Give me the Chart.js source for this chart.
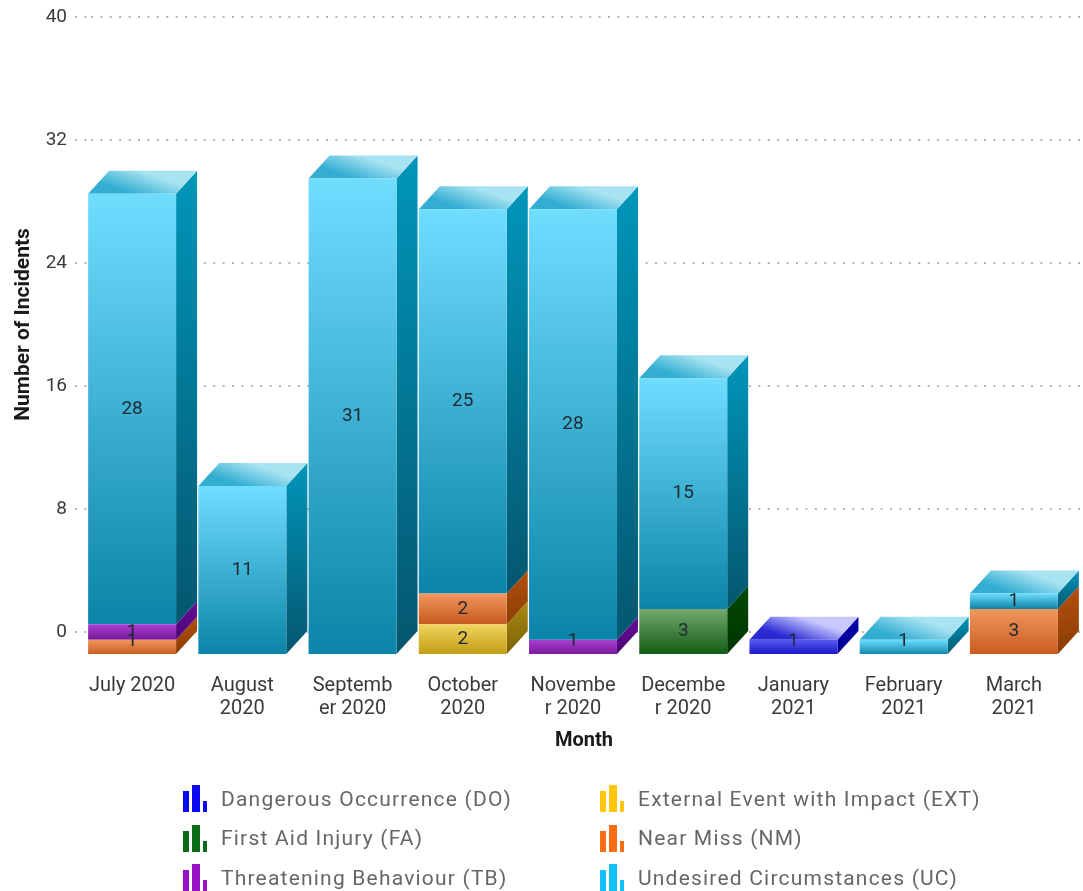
<!DOCTYPE html>
<html>
<head>
<meta charset="utf-8">
<script src="https://cdn.jsdelivr.net/npm/chart.js@4"></script>
<style>
  html, body { margin: 0; padding: 0; background: #fff; overflow: hidden; }
  #wrap { position: relative; width: 1083px; height: 891px; }
  #chart { position: absolute; left: 0; top: 0; }
  #legend { position: absolute; left: 183px; top: 779px; width: 860px; display: grid;
            grid-template-columns: 417px 417px; grid-auto-rows: 39.5px; }
  .item { display: flex; align-items: center; font: 21px Roboto, sans-serif; letter-spacing: 1.2px; color: #666; white-space: nowrap; }
  .icon { display: flex; align-items: flex-end; width: 27px; height: 27px; margin-right: 11px; }
  .icon i { display: block; margin-right: 3px; }
</style>
</head>
<body>
<div id="wrap">
  <canvas id="chart" width="1083" height="891"></canvas>
  <div id="legend"></div>
</div>
<script>
// ── Data ──
const categories = [
  ['July 2020'], ['August', '2020'], ['Septemb', 'er 2020'], ['October', '2020'], ['Novembe', 'r 2020'],
  ['Decembe', 'r 2020'], ['January', '2021'], ['February', '2021'], ['March', '2021']
];
const seriesNames = [
  'Dangerous Occurrence (DO)', 'External Event with Impact (EXT)', 'First Aid Injury (FA)',
  'Near Miss (NM)', 'Threatening Behaviour (TB)', 'Undesired Circumstances (UC)'
];
const doValues  = [0, 0, 0, 0, 0, 0, 1, 0, 0];
const extValues = [0, 0, 0, 2, 0, 0, 0, 0, 0];
const faValues  = [0, 0, 0, 0, 0, 3, 0, 0, 0];
const nmValues  = [1, 0, 0, 2, 0, 0, 0, 0, 3];
const tbValues  = [1, 0, 0, 0, 1, 0, 0, 0, 0];
const ucValues  = [28, 11, 31, 25, 28, 15, 0, 1, 1];
const allValues = [doValues, extValues, faValues, nmValues, tbValues, ucValues];
const yTicks    = [0, 8, 16, 24, 32, 40];

// ── Colours: legend, front face, side face, top face ──
const legendColors = ['#0a0af0', '#ffc60a', '#0b6a16', '#fb6c14', '#9a12c8', '#12c0fa'];
const faceColors = [
  { front: ['#5a5af2', '#1414c4'], side: ['#0000b0', '#000090'], cap: ['#2a2ad4', '#c8c8ff'] },
  { front: ['#efd660', '#c29a12'], side: ['#a88a10', '#7c6206'], cap: ['#d4b830', '#f4e8a8'] },
  { front: ['#74a870', '#0f5a12'], side: ['#024a02', '#003400'], cap: ['#3a8a3a', '#b8dcb8'] },
  { front: ['#f0975e', '#c95a1e'], side: ['#b4500e', '#8a3c04'], cap: ['#e08040', '#f8d0b0'] },
  { front: ['#aa40d2', '#78189a'], side: ['#66109a', '#4c0474'], cap: ['#9030b8', '#dcb0ec'] },
  { front: ['#70ddff', '#0a84a8'], side: ['#0096bb', '#05566f'], cap: ['#33aed2', '#a8e3f2'] }
];

// 3D depth of the boxes, in pixels
const DEPTH_X = 21;
const DEPTH_Y = 23;
// how far the front faces and x labels move left of their category centre
const SHIFT_X = 14;

// ── Value range of one stacked segment ──
function segment(dsIndex, i) {
  let base = 0;
  for (let k = 0; k < dsIndex; k++) base += allValues[k][i];
  return [base, base + allValues[dsIndex][i]];
}

function isTop(dsIndex, i) {
  for (let k = dsIndex + 1; k < allValues.length; k++) if (allValues[k][i] > 0) return false;
  return allValues[dsIndex][i] > 0;
}

function frontGradient(ctx) {
  const chart = ctx.chart;
  const colors = faceColors[ctx.datasetIndex].front;
  if (!chart.chartArea || !chart.scales.y) return colors[0];
  const [lo, hi] = segment(ctx.datasetIndex, ctx.dataIndex);
  const g = chart.ctx.createLinearGradient(0, chart.scales.y.getPixelForValue(hi), 0, chart.scales.y.getPixelForValue(lo));
  g.addColorStop(0, colors[0]);
  g.addColorStop(1, colors[1]);
  return g;
}

// ── Plugin: shift the bars off the axis and give them side + top faces ──
const boxes3d = {
  id: 'boxes3d',
  beforeDatasetsDraw(chart) {
    const ctx = chart.ctx;
    ctx.save();
    ctx.translate(-SHIFT_X, DEPTH_Y);
    chart.data.datasets.forEach((ds, d) => {
      chart.getDatasetMeta(d).data.forEach((bar, i) => {
        if (!allValues[d][i]) return;
        const { x, y, base, width } = bar.getProps(['x', 'y', 'base', 'width']);
        const left = x - width / 2, right = x + width / 2;
        const c = faceColors[d];

        const side = ctx.createLinearGradient(0, y - DEPTH_Y, 0, base);
        side.addColorStop(0, c.side[0]);
        side.addColorStop(1, c.side[1]);
        ctx.fillStyle = side;
        ctx.beginPath();
        ctx.moveTo(right, y);
        ctx.lineTo(right + DEPTH_X, y - DEPTH_Y);
        ctx.lineTo(right + DEPTH_X, base - DEPTH_Y);
        ctx.lineTo(right, base);
        ctx.closePath();
        ctx.fill();

        if (isTop(d, i)) {
          const cap = ctx.createLinearGradient(x, y, x + 8, y - DEPTH_Y);
          cap.addColorStop(0, c.cap[0]);
          cap.addColorStop(1, c.cap[1]);
          ctx.fillStyle = cap;
          ctx.beginPath();
          ctx.moveTo(left, y);
          ctx.lineTo(left + DEPTH_X, y - DEPTH_Y);
          ctx.lineTo(right + DEPTH_X, y - DEPTH_Y);
          ctx.lineTo(right, y);
          ctx.closePath();
          ctx.fill();
        }
      });
    });
  },
  afterDatasetsDraw(chart) {
    const ctx = chart.ctx;
    // value labels, still in the shifted space
    ctx.font = '19px Roboto, sans-serif';
    ctx.fillStyle = '#1f2a30';
    ctx.textAlign = 'center';
    ctx.textBaseline = 'middle';
    chart.data.datasets.forEach((ds, d) => {
      chart.getDatasetMeta(d).data.forEach((bar, i) => {
        const v = allValues[d][i];
        if (!v) return;
        const { x, y, base } = bar.getProps(['x', 'y', 'base']);
        // a one-high box sitting on the floor has its label pushed up a bit
        const nudge = v === 1 && segment(d, i)[0] === 0 ? -6 : 0;
        ctx.fillText(String(v), x, (y + base) / 2 + nudge);
      });
    });
    ctx.restore();

    // x axis title sits left of the plot centre, so it is placed here
    ctx.save();
    ctx.font = 'bold 20px Roboto, sans-serif';
    ctx.fillStyle = '#1a1a1a';
    ctx.textAlign = 'center';
    ctx.textBaseline = 'middle';
    ctx.fillText('Month', 584, 741);
    ctx.restore();
  }
};

const chart = new Chart(document.getElementById('chart'), {
  type: 'bar',
  data: {
    labels: categories,
    datasets: seriesNames.map((name, d) => ({
      label: name,
      data: allValues[d],
      backgroundColor: frontGradient,
      borderWidth: 0,
      stack: 'incidents',
      categoryPercentage: 0.798,
      barPercentage: 1,
      clip: false
    }))
  },
  options: {
    responsive: false,
    animation: false,
    layout: { padding: { top: 17, right: 0, left: 0, bottom: 0 } },
    plugins: { legend: { display: false }, tooltip: { enabled: false } },
    scales: {
      x: {
        stacked: true,
        grid: { display: false },
        border: { display: false },
        ticks: {
          color: '#3a3a3a',
          font: { family: 'Roboto, sans-serif', size: 20, lineHeight: 1.15 },
          padding: 34,
          labelOffset: -SHIFT_X,
          maxRotation: 0,
          autoSkip: false
        },
        afterFit(scale) {
          scale.height = 259;
          scale.paddingLeft = 0;
          scale.paddingRight = 0;
        }
      },
      y: {
        stacked: true,
        min: 0,
        max: 40,
        afterBuildTicks(scale) { scale.ticks = yTicks.map(v => ({ value: v })); },
        grid: {
          color: '#b4b4b4',
          lineWidth: 2,
          tickLength: 16,
          tickColor: '#b4b4b4',
          tickWidth: 2,
          tickBorderDash: [2, 7.4]
        },
        border: { display: false, dash: [2, 7.4] },
        ticks: {
          color: '#3a3a3a',
          font: { family: 'Roboto, sans-serif', size: 19 },
          padding: 8
        },
        title: {
          display: true,
          text: 'Number of Incidents',
          color: '#1a1a1a',
          font: { family: 'Roboto, sans-serif', size: 21, weight: 'bold' },
          padding: { top: 11, bottom: 0 }
        },
        afterFit(scale) {
          scale.width = 91;
          scale.paddingTop = 0;
          scale.paddingBottom = 0;
        }
      }
    }
  },
  plugins: [boxes3d]
});

// ── HTML legend, two columns, left to right ──
const legendEl = document.getElementById('legend');
seriesNames.forEach((name, d) => {
  const item = document.createElement('div');
  item.className = 'item';
  const icon = document.createElement('span');
  icon.className = 'icon';
  [[7, 21], [8, 27], [5, 11]].forEach(([w, h]) => {
    const b = document.createElement('i');
    b.style.cssText = `width:${w}px;height:${h}px;background:${legendColors[d]}`;
    icon.appendChild(b);
  });
  item.appendChild(icon);
  item.appendChild(document.createTextNode(name));
  legendEl.appendChild(item);
});
</script>
</body>
</html>
